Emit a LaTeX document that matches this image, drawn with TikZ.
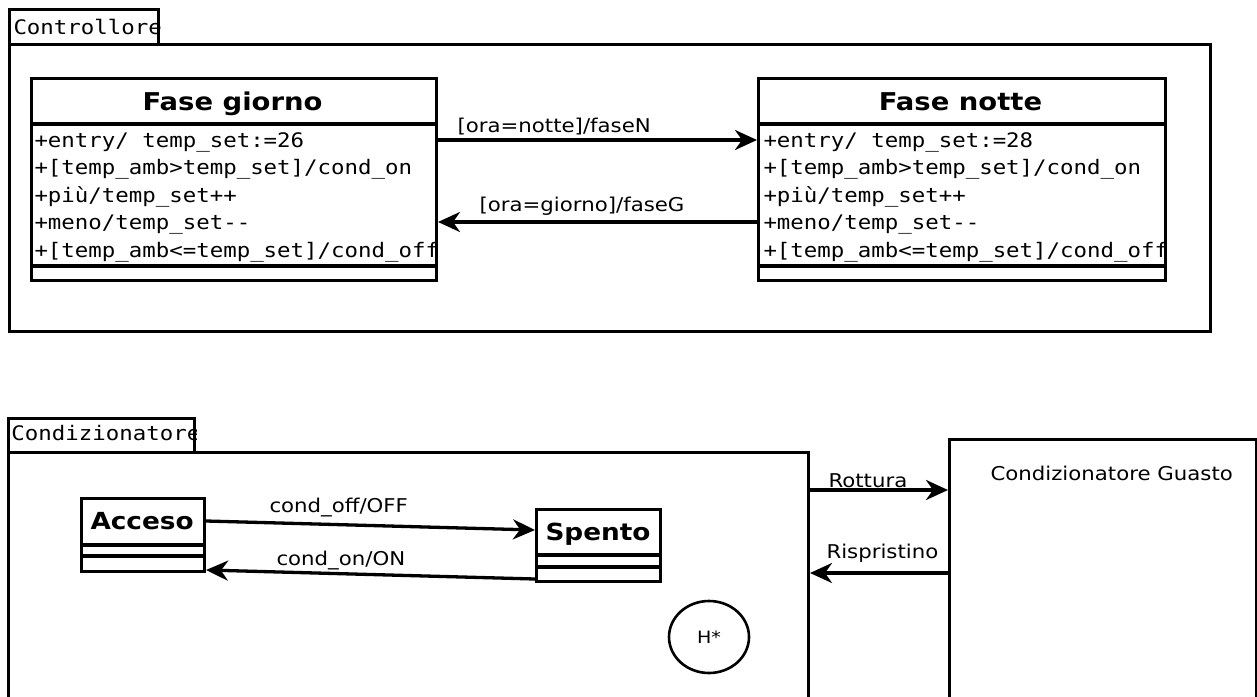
\documentclass[tikz,border=0pt]{standalone}
\usepackage{fontspec}
\newfontfamily\umono[FakeStretch=1.12]{DejaVu Sans Mono}
\newfontfamily\usans[FakeStretch=1.12]{DejaVu Sans}
\usetikzlibrary{arrows.meta,calc,shapes.geometric}
\begin{document}
\begin{tikzpicture}[x=1pt,y=-1pt, line width=3pt,
 box/.style={draw, rectangle, inner sep=0pt, anchor=north west},
 sepline/.style={line width=3.6pt},
 ttl/.style={font=\usans\bfseries\fontsize{24.5}{28}\selectfont, inner sep=0pt, anchor=base},
 sttl/.style={font=\usans\bfseries\fontsize{23.5}{28}\selectfont, inner sep=0pt, anchor=base west},
 attr/.style={font=\umono\fontsize{20}{24}\selectfont, inner sep=0pt, anchor=base west},
 tabtxt/.style={font=\umono\fontsize{20}{24}\selectfont, inner sep=0pt, anchor=base west},
 lbl/.style={font=\usans\fontsize{19}{23}\selectfont, inner sep=0pt, anchor=base west},
 arr/.style={-{Stealth[length=22pt,width=20pt,inset=7pt]}, line width=3.3pt}]
\fill[white] (0,0) rectangle (1257,696);
\useasboundingbox (0,0) rectangle (1257,696);

% ---------- Controllore ----------
\node[box, minimum width=149pt, minimum height=35pt] (tabC) at (8,8) {};
\begin{scope}
\clip (tabC.north west) rectangle (tabC.south east);
\node[tabtxt] (tabCt) at (12,34) {Controllore};
\end{scope}
\node[box, minimum width=1201pt, minimum height=287pt] (ctrl) at (8,43) {};

% Fase giorno
\node[box, minimum width=405pt, minimum height=202pt] (giorno) at (30,77) {};
\draw[sepline] (giorno.west |- 0,124) -- (giorno.east |- 0,124);
\draw[sepline] (giorno.west |- 0,266) -- (giorno.east |- 0,266);
\node[ttl] (giornoT) at (232.5,110) {Fase giorno};
\begin{scope}
\clip (30,124) rectangle (434,266);
\node[attr] (g1) at (33,147) {+entry/ temp\_set:=26};
\node[attr] (g2) at (33,174.5) {+[temp\_amb>temp\_set]/cond\_on};
\node[attr] (g3) at (33,202) {+più/temp\_set++};
\node[attr] (g4) at (33,229.5) {+meno/temp\_set-{}-};
\node[attr] (g5) at (33,257) {+[temp\_amb<=temp\_set]/cond\_off};
\end{scope}

% Fase notte
\node[box, minimum width=407pt, minimum height=202pt] (notte) at (757,77) {};
\draw[sepline] (notte.west |- 0,124) -- (notte.east |- 0,124);
\draw[sepline] (notte.west |- 0,266) -- (notte.east |- 0,266);
\node[ttl] (notteT) at (960.5,110) {Fase notte};
\begin{scope}
\clip (757,124) rectangle (1163,266);
\node[attr] (n1) at (762,147) {+entry/ temp\_set:=28};
\node[attr] (n2) at (762,174.5) {+[temp\_amb>temp\_set]/cond\_on};
\node[attr] (n3) at (762,202) {+più/temp\_set++};
\node[attr] (n4) at (762,229.5) {+meno/temp\_set-{}-};
\node[attr] (n5) at (762,257) {+[temp\_amb<=temp\_set]/cond\_off};
\end{scope}

\coordinate (yN) at (0,140);
\coordinate (yG) at (0,222);
\draw[arr] (giorno.east |- yN) -- (notte.west |- yN);
\draw[arr] (notte.west |- yG) -- (giorno.east |- yG);
\node[lbl] (lN) at (456,132) {[ora=notte]/faseN};
\node[lbl] (lG) at (478,211) {[ora=giorno]/faseG};

% ---------- Condizionatore ----------
\node[box, minimum width=186pt, minimum height=34pt] (tabK) at (7,417) {};
\begin{scope}
\clip (tabK.north west) rectangle (tabK.south east);
\node[tabtxt] (tabKt) at (10,440) {Condizionatore};
\end{scope}
\node[box, minimum width=800pt, minimum height=300pt] (cond) at (7,451) {};

\node[box, minimum width=123pt, minimum height=73pt] (acceso) at (80,497) {};
\draw[sepline] (acceso.west |- 0,545) -- (acceso.east |- 0,545);
\draw[sepline] (acceso.west |- 0,556) -- (acceso.east |- 0,556);
\node[sttl] (accesoT) at (89,529) {Acceso};

\node[box, minimum width=124pt, minimum height=72pt] (spento) at (535,508) {};
\draw[sepline] (spento.west |- 0,555) -- (spento.east |- 0,555);
\draw[sepline] (spento.west |- 0,567) -- (spento.east |- 0,567);
\node[sttl] (spentoT) at (544,540) {Spento};

\node[draw, ellipse, line width=2.6pt, minimum width=80pt, minimum height=72pt, inner sep=0pt,
      font=\usans\fontsize{17}{20}\selectfont] (hist) at (709,637) {H*};

\coordinate (y1a) at (0,521);
\coordinate (y1b) at (0,530);
\coordinate (y2a) at (0,579);
\coordinate (y2b) at (0,570);
\draw[arr] (acceso.east |- y1a) -- (spento.west |- y1b);
\draw[arr] (spento.west |- y2a) -- (acceso.east |- y2b);
\node[lbl] (lOff) at (268,512) {cond\_off/OFF};
\node[lbl] (lOn) at (275,565) {cond\_on/ON};

% ---------- Guasto ----------
\node[box, minimum width=307pt, minimum height=300pt] (guasto) at (948,438) {};
\node[lbl] (guastoT) at (989,480) {Condizionatore Guasto};

\coordinate (yR) at (0,490);
\coordinate (yS) at (0,573);
\draw[arr] (cond.east |- yR) -- (guasto.west |- yR);
\draw[arr] (guasto.west |- yS) -- (cond.east |- yS);
\node[lbl] (lR) at (827,487) {Rottura};
\node[lbl] (lS) at (825,558) {Rispristino};
\end{tikzpicture}
\end{document}
